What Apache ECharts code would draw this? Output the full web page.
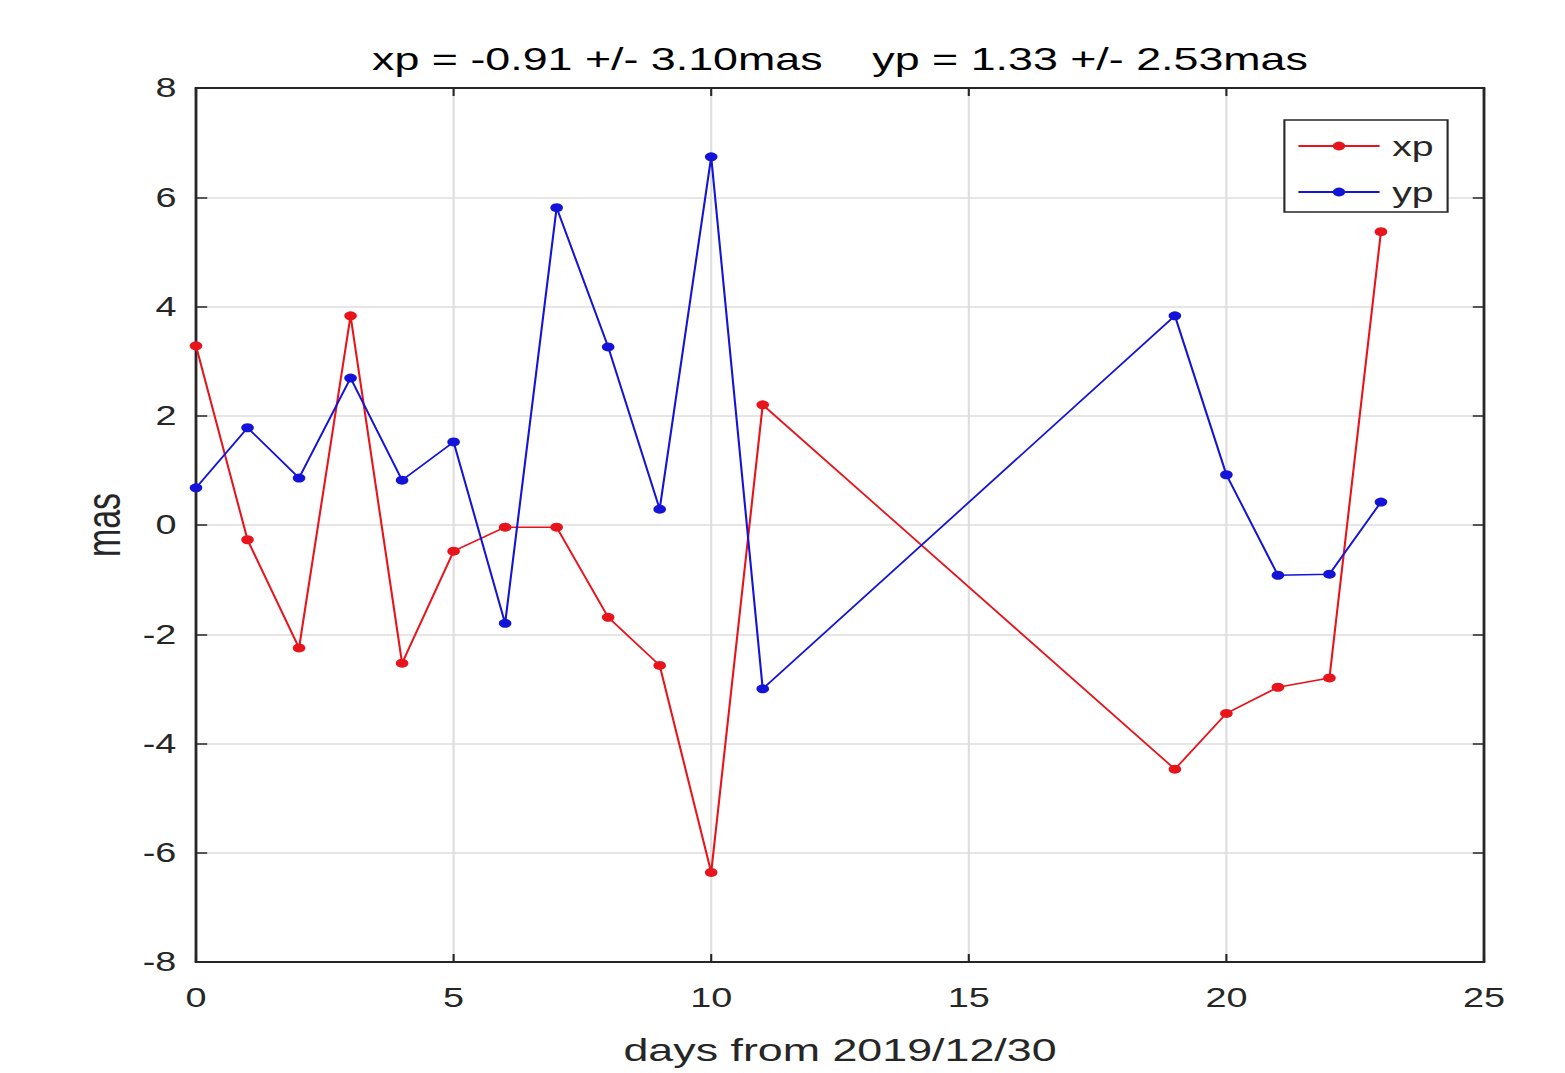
<!DOCTYPE html>
<html>
<head>
<meta charset="utf-8">
<script src="https://cdn.jsdelivr.net/npm/echarts@6/dist/echarts.min.js"></script>
<style>
html,body{margin:0;padding:0;background:#fff;overflow:hidden;}
/* the reference figure is stretched sideways, so draw narrower and stretch */
#main{width:1118px;height:1073px;transform:scaleX(1.4);transform-origin:0 0;}
</style>
</head>
<body>
<div id="main"></div>
<script>
// days from 2019/12/30 and polar motion residuals (mas)
var days = [0, 1, 2, 3, 4, 5, 6, 7, 8, 9, 10, 11, 19, 20, 21, 22, 23];
var xp = [3.28, -0.27, -2.25, 3.83, -2.53, -0.48, -0.04, -0.04, -1.69, -2.57, -6.36, 2.2, -4.47, -3.45, -2.97, -2.8, 5.37];
var yp = [0.68, 1.78, 0.86, 2.69, 0.82, 1.52, -1.8, 5.81, 3.26, 0.29, 6.74, -3.0, 3.83, 0.92, -0.92, -0.9, 0.42];
var xTicks = [0, 5, 10, 15, 20, 25];
var yTicks = [-8, -6, -4, -2, 0, 2, 4, 6, 8];

var font = '"Liberation Sans", Arial, sans-serif';
var txt = '#262626';

function pairs(ys){
	var out = [];
	for (var i = 0; i < days.length; i++) out.push([days[i], ys[i]]);
	return out;
}

var myChart = echarts.init(document.getElementById('main'), null, {renderer: 'svg'});

// ticks point into the plot, MATLAB style
var tick = {show: true, inside: true, length: 8, lineStyle: {color: txt, width: 1.5}};
var line = {show: true, onZero: false, lineStyle: {color: txt, width: 2}};
var grid_line = {show: true, lineStyle: {color: '#dedede', width: 1.5}};

var option = {
	animation: false,
	title: {
		text: 'xp = -0.91 +/- 3.10mas    yp = 1.33 +/- 2.53mas',
		left: 595, top: 38, textAlign: 'center',
		textStyle: {fontFamily: font, fontSize: 32, fontWeight: 'normal', color: '#000'}
	},
	grid: {left: 140, right: 58, top: 88, bottom: 111},
	legend: {
		orient: 'vertical',
		right: 84, top: 120,
		backgroundColor: '#fff',
		borderColor: txt, borderWidth: 1.5,
		padding: [12, 10, 6, 9],
		itemGap: 18,
		itemWidth: 58, itemHeight: 11,
		textStyle: {fontFamily: font, fontSize: 28, color: txt, padding: [0, 0, 0, 4]},
		data: ['xp', 'yp']
	},
	xAxis: [
		{
			type: 'value', min: 0, max: 25, interval: 5,
			axisLine: line, axisTick: tick, splitLine: grid_line,
			axisLabel: {fontFamily: font, fontSize: 27, color: txt, margin: 22,
				formatter: function(v){ return xTicks.indexOf(v) >= 0 ? v : ''; }},
			name: 'days from 2019/12/30',
			nameLocation: 'middle', nameGap: 72,
			nameTextStyle: {fontFamily: font, fontSize: 32, color: txt}
		},
		{
			type: 'value', min: 0, max: 25, interval: 5, position: 'top',
			axisLine: line, axisTick: tick, splitLine: {show: false}, axisLabel: {show: false}
		}
	],
	yAxis: [
		{
			type: 'value', min: -8, max: 8, interval: 2,
			axisLine: line, axisTick: tick, splitLine: grid_line,
			axisLabel: {fontFamily: font, fontSize: 27, color: txt, margin: 14,
				formatter: function(v){ return yTicks.indexOf(v) >= 0 ? v : ''; }},
			name: 'mas',
			nameLocation: 'middle', nameGap: 46,
			nameTextStyle: {fontFamily: font, fontSize: 34, color: txt}
		},
		{
			type: 'value', min: -8, max: 8, interval: 2, position: 'right',
			axisLine: line, axisTick: tick, splitLine: {show: false}, axisLabel: {show: false}
		}
	],
	series: [
		{
			name: 'xp', type: 'line', data: pairs(xp),
			symbol: 'circle', symbolSize: 9,
			itemStyle: {color: '#e8141c'},
			lineStyle: {color: '#e8141c', width: 1.5}
		},
		{
			name: 'yp', type: 'line', data: pairs(yp),
			symbol: 'circle', symbolSize: 9,
			itemStyle: {color: '#1414d8'},
			lineStyle: {color: '#1414d8', width: 1.5}
		}
	]
};

myChart.setOption(option);
</script>
</body>
</html>
